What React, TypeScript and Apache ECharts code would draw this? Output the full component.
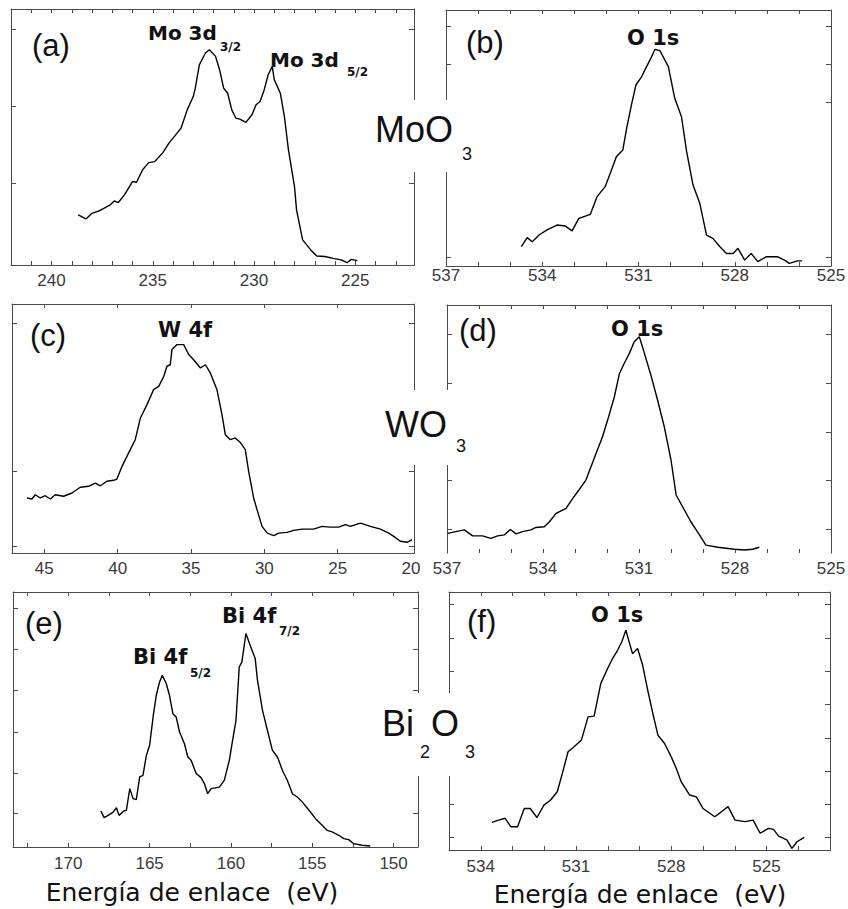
import React, { useEffect, useRef } from "react";
import * as echarts from "echarts";

// ---------- (a) Mo 3d ----------
const mo3dEnergy = [238.68, 238.3, 238.0, 237.6, 237.1, 236.9, 236.7, 236.4, 236.0, 235.8, 235.5, 235.2, 234.9, 234.5, 234.2, 233.8, 233.6, 233.3, 233.0, 232.9, 232.7, 232.4, 232.2, 231.9, 231.7, 231.5, 231.3, 231.1, 230.9, 230.7, 230.4, 230.1, 229.9, 229.7, 229.5, 229.3, 229.1, 229.0, 228.7, 228.5, 228.3, 228.0, 227.9, 227.6, 227.2, 226.9, 226.5, 226.1, 225.7, 225.4, 225.2, 224.9];
const mo3dIntensity = [19.6, 18.0, 20.2, 21.3, 23.5, 25.0, 24.4, 27.4, 32.6, 32.3, 37.2, 40.0, 40.4, 43.9, 47.6, 51.5, 53.5, 60.6, 65.8, 69.1, 78.2, 82.8, 84.1, 81.5, 76.3, 69.1, 67.1, 60.6, 57.4, 57.0, 55.7, 58.7, 62.6, 63.9, 68.4, 74.3, 77.6, 72.4, 67.1, 58.0, 45.0, 30.6, 21.5, 9.8, 5.9, 3.5, 3.3, 2.6, 2.0, 0.9, 2.2, 1.7];

// ---------- (b) O 1s in MoO3 ----------
const moO1sEnergy = [534.65, 534.47, 534.31, 534.10, 533.85, 533.54, 533.28, 533.07, 532.86, 532.50, 532.29, 532.04, 531.88, 531.69, 531.49, 531.36, 531.21, 531.08, 530.90, 530.80, 530.64, 530.49, 530.33, 530.07, 529.87, 529.66, 529.50, 529.30, 529.09, 528.88, 528.68, 528.47, 528.26, 528.05, 527.90, 527.69, 527.49, 527.28, 527.02, 526.66, 526.45, 526.30, 526.04, 525.90];
const moO1sIntensity = [7.6, 11.1, 9.5, 12.1, 14.1, 16.0, 15.6, 13.7, 18.6, 20.2, 27.1, 31.0, 36.2, 42.7, 45.3, 54.4, 63.5, 70.7, 74.0, 76.6, 80.5, 84.6, 84.1, 77.9, 65.5, 58.3, 44.7, 31.6, 24.5, 12.1, 10.8, 7.6, 4.9, 4.9, 6.9, 2.3, 4.9, 1.7, 3.6, 3.6, 2.3, 1.0, 2.0, 2.0];

// ---------- (c) W 4f ----------
const w4fEnergy = [46.18, 45.84, 45.61, 45.27, 44.93, 44.59, 44.25, 43.68, 43.11, 42.55, 41.98, 41.52, 41.18, 40.73, 40.27, 40.05, 39.70, 39.25, 38.80, 38.45, 38.0, 37.55, 37.20, 36.86, 36.64, 36.41, 36.30, 35.95, 35.50, 35.16, 34.82, 34.36, 34.02, 33.68, 33.23, 32.89, 32.66, 32.32, 31.98, 31.64, 31.30, 31.07, 30.73, 30.50, 30.16, 29.80, 29.36, 29.02, 28.45, 28.0, 27.43, 26.64, 26.07, 25.5, 24.93, 24.48, 24.14, 23.45, 22.77, 22.09, 21.52, 21.18, 20.73, 20.27, 19.93];
const w4fIntensity = [22.1, 21.7, 23.4, 22.1, 23.0, 21.7, 23.4, 22.8, 24.1, 26.4, 26.8, 28.1, 27.0, 28.8, 29.2, 29.7, 34.8, 40.2, 45.5, 54.2, 59.6, 65.6, 66.9, 70.9, 75.0, 75.6, 81.7, 83.7, 83.7, 79.7, 77.6, 74.3, 75.6, 72.3, 65.6, 55.6, 47.5, 45.5, 46.2, 44.4, 41.5, 32.8, 22.1, 17.4, 10.7, 8.0, 7.0, 8.0, 8.3, 9.1, 9.6, 9.6, 10.7, 10.4, 10.4, 11.4, 10.7, 12.0, 10.7, 9.6, 8.0, 6.7, 4.7, 4.3, 5.4];

// ---------- (d) O 1s in WO3 ----------
const wO1sEnergy = [536.98, 536.72, 536.46, 536.20, 535.89, 535.63, 535.42, 535.21, 535.02, 534.84, 534.64, 534.38, 534.22, 533.96, 533.80, 533.59, 533.28, 533.07, 532.86, 532.66, 532.50, 532.34, 532.14, 531.98, 531.77, 531.61, 531.46, 531.30, 531.15, 530.99, 530.83, 530.63, 530.42, 530.21, 530.00, 529.84, 529.64, 529.38, 529.11, 528.91, 528.54, 528.02, 527.71, 527.45, 527.24];
const wO1sIntensity = [7.9, 8.6, 9.3, 6.9, 6.9, 5.9, 6.9, 7.3, 9.5, 7.7, 8.6, 9.3, 10.3, 10.6, 12.6, 16.0, 18.0, 22.0, 25.7, 29.4, 34.8, 40.2, 46.9, 53.6, 63.0, 72.4, 76.5, 80.5, 85.2, 87.2, 80.5, 71.8, 61.7, 50.9, 37.5, 23.4, 18.7, 12.6, 7.3, 3.2, 2.3, 1.5, 1.2, 1.5, 2.3];

// ---------- (e) Bi 4f ----------
const bi4fEnergy = [168.0, 167.8, 167.55, 167.24, 167.04, 166.88, 166.59, 166.43, 166.22, 166.02, 165.82, 165.61, 165.41, 165.20, 165.0, 164.76, 164.59, 164.39, 164.22, 163.98, 163.78, 163.57, 163.37, 163.16, 162.86, 162.65, 162.45, 162.14, 161.84, 161.63, 161.43, 161.22, 160.71, 160.41, 160.10, 159.90, 159.69, 159.49, 159.33, 159.08, 158.78, 158.51, 158.37, 158.06, 157.76, 157.45, 157.14, 156.84, 156.53, 156.22, 155.92, 155.61, 155.20, 154.80, 154.39, 154.08, 153.78, 153.37, 153.06, 152.76, 152.45, 151.94, 151.43];
const bi4fIntensity = [14.1, 11.5, 12.4, 13.7, 15.4, 12.4, 14.1, 14.4, 22.9, 19.0, 18.6, 27.5, 28.1, 35.9, 39.9, 52.3, 59.5, 64.7, 67.3, 64.1, 59.5, 52.3, 51.0, 45.1, 40.5, 35.3, 34.0, 28.8, 27.2, 24.8, 20.9, 22.9, 23.5, 26.1, 34.0, 41.8, 49.7, 70.6, 72.5, 83.7, 78.4, 73.9, 65.4, 53.6, 45.8, 37.9, 35.3, 30.1, 26.1, 20.9, 19.6, 17.6, 14.4, 11.1, 8.5, 6.5, 5.9, 4.6, 3.3, 2.9, 1.3, 0.7, 0.4];

// ---------- (f) O 1s in Bi2O3 ----------
const biO1sEnergy = [533.65, 533.44, 533.23, 533.05, 532.84, 532.63, 532.44, 532.23, 532.01, 531.80, 531.59, 531.43, 531.25, 531.06, 530.83, 530.62, 530.43, 530.22, 530.03, 529.85, 529.69, 529.56, 529.43, 529.22, 529.06, 528.90, 528.74, 528.58, 528.42, 528.21, 528.0, 527.84, 527.69, 527.42, 527.21, 527.00, 526.63, 526.42, 526.21, 525.99, 525.68, 525.42, 525.20, 524.94, 524.78, 524.62, 524.36, 524.20, 524.04, 523.81];
const biO1sIntensity = [10.7, 11.6, 12.3, 9.0, 9.0, 16.1, 16.1, 12.6, 17.4, 19.4, 22.6, 29.7, 38.1, 40.0, 42.6, 51.6, 51.9, 64.5, 69.7, 74.2, 77.4, 80.6, 85.2, 76.1, 78.1, 71.6, 61.9, 52.9, 44.5, 41.3, 36.1, 31.6, 26.5, 21.3, 20.6, 16.1, 12.9, 14.8, 16.8, 11.6, 11.0, 11.6, 6.5, 8.4, 8.0, 5.4, 3.9, 0.6, 3.2, 4.9];

// ---------- tick labels / tick positions ----------
const moXLabels = [240, 235, 230, 225];
const moXTicks = [223, 224, 225, 226, 227, 228, 229, 230, 231, 232, 233, 234, 235, 236, 237, 238, 239, 240, 241];
const oXLabels = [537, 534, 531, 528, 525];
const oXTicks = [526, 527, 528, 529, 530, 531, 532, 533, 534, 535, 536];
const wXLabels = [45, 40, 35, 30, 25, 20];
const wXTicks = [45, 40, 35, 30, 25];
const biXLabels = [170, 165, 160, 155, 150];
const biXTicks = [150, 152.5, 155, 157.5, 160, 162.5, 165, 167.5, 170, 172.5];
const biOXLabels = [534, 531, 528, 525];
const biOXTicks = [524, 525, 526, 527, 528, 529, 530, 531, 532, 533, 534];

const aYTicks = [31.8, 61.9, 92.2];
const bYTicks = [3.6, 63.8, 78.8, 93.75];
const cYTicks = [2.9, 32.8, 92.4];
const dYTicks = [9.4, 29.2, 48.8, 68.6, 88.2];
const eYTicks = [13.1, 29.0, 45.1, 61.4, 77.5, 93.5];
const fYTicks = [4.8, 17.7, 30.6, 43.5, 56.4, 69.3, 82.2, 95.1];

const axisTitle = "Energía de enlace  (eV)";

const SANS = "'Liberation Sans', Arial, sans-serif";
const WIDE = "'DejaVu Sans', Verdana, sans-serif";

const pair = (xs: number[], ys: number[]) => xs.map((x, i) => [x, ys[i]]);

function buildOption() {
  const panels = [
    { box: { left: 11, top: 9, width: 403, height: 256 }, xMin: 222.1, xMax: 242, xLabels: moXLabels, xTicks: moXTicks, yTicks: aYTicks, data: pair(mo3dEnergy, mo3dIntensity), margin: 7, bottomLine: true },
    { box: { left: 446, top: 10, width: 385, height: 256 }, xMin: 525, xMax: 537, xLabels: oXLabels, xTicks: oXTicks, yTicks: bYTicks, data: pair(moO1sEnergy, moO1sIntensity), margin: 1, bottomLine: true },
    { box: { left: 12, top: 304, width: 402, height: 249 }, xMin: 19.8, xMax: 47.2, xLabels: wXLabels, xTicks: wXTicks, yTicks: cYTicks, data: pair(w4fEnergy, w4fIntensity), margin: 7, bottomLine: true },
    { box: { left: 447, top: 305, width: 384, height: 248 }, xMin: 525, xMax: 537, xLabels: oXLabels, xTicks: oXTicks, yTicks: dYTicks, data: pair(wO1sEnergy, wO1sIntensity), margin: 7, bottomLine: false },
    { box: { left: 13, top: 592, width: 405, height: 255 }, xMin: 148.5, xMax: 173.4, xLabels: biXLabels, xTicks: biXTicks, yTicks: eYTicks, data: pair(bi4fEnergy, bi4fIntensity), margin: 8, bottomLine: true },
    { box: { left: 449, top: 592, width: 381, height: 258 }, xMin: 523, xMax: 535, xLabels: biOXLabels, xTicks: biOXTicks, yTicks: fYTicks, data: pair(biO1sEnergy, biO1sIntensity), margin: 8, bottomLine: true },
  ];

  const lineStyle = { color: "#4a4a4a", width: 1 };
  const grid: any[] = [];
  const xAxis: any[] = [];
  const yAxis: any[] = [];
  const series: any[] = [];

  panels.forEach((p, i) => {
    grid.push({ ...p.box, containLabel: false, outerBoundsMode: "none" });
    xAxis.push({
      type: "value", gridIndex: i, position: "bottom", min: p.xMin, max: p.xMax, inverse: true,
      axisLine: { show: p.bottomLine, onZero: false, lineStyle },
      axisTick: { show: true, inside: true, length: 4, customValues: p.xTicks, lineStyle },
      axisLabel: { show: true, customValues: p.xLabels, margin: p.margin, fontSize: 17, color: "#3a3a3a", fontFamily: SANS },
      splitLine: { show: false },
    });
    xAxis.push({
      type: "value", gridIndex: i, position: "top", min: p.xMin, max: p.xMax, inverse: true,
      axisLine: { show: true, onZero: false, lineStyle },
      axisTick: { show: true, inside: true, length: 4, customValues: p.xTicks, lineStyle },
      axisLabel: { show: false },
      splitLine: { show: false },
    });
    yAxis.push({
      type: "value", gridIndex: i, position: "left", min: 0, max: 100,
      axisLine: { show: true, onZero: false, lineStyle },
      axisTick: { show: true, inside: true, length: 5, customValues: p.yTicks, lineStyle },
      axisLabel: { show: false },
      splitLine: { show: false },
    });
    yAxis.push({
      type: "value", gridIndex: i, position: "right", min: 0, max: 100,
      axisLine: { show: true, onZero: false, lineStyle },
      axisTick: { show: true, inside: true, length: 5, customValues: p.yTicks, lineStyle },
      axisLabel: { show: false },
      splitLine: { show: false },
    });
    series.push({
      type: "line", xAxisIndex: 2 * i, yAxisIndex: 2 * i, data: p.data,
      showSymbol: false, symbol: "none", silent: true,
      lineStyle: { color: "#000", width: 1.4 },
    });
  });

  const txt = (text: string, x: number, y: number, fontSize: number, fontFamily: string, fontWeight: any = "normal", align = "left") => ({
    type: "text", x, y, z: 60,
    style: { text, fontSize, fontFamily, fontWeight, fill: "#111", textAlign: align, verticalAlign: "middle", textVerticalAlign: "middle" },
  });
  const white = (x: number, y: number, w: number, h: number) => ({
    type: "rect", z: 55, shape: { x, y, width: w, height: h }, style: { fill: "#fff" },
  });

  const graphic = [
    white(368, 100, 112, 72),
    white(380, 390, 95, 75),
    white(380, 693, 100, 83),
    // panel letters
    txt("(a)", 32, 45, 31, SANS),
    txt("(b)", 466, 42, 31, SANS),
    txt("(c)", 30, 335, 31, SANS),
    txt("(d)", 459, 330, 31, SANS),
    txt("(e)", 25, 623, 31, SANS),
    txt("(f)", 467, 621, 31, SANS),
    // peak labels
    txt("Mo 3d", 148, 32.5, 20, WIDE, "bold"),
    txt("3/2", 220, 46.5, 12, WIDE, "bold"),
    txt("Mo 3d", 270, 60, 20, WIDE, "bold"),
    txt("5/2", 347, 71.5, 12, WIDE, "bold"),
    txt("O 1s", 627, 37.5, 21, WIDE, "bold"),
    txt("W 4f", 158, 329.5, 21, WIDE, "bold"),
    txt("O 1s", 611, 328.5, 21, WIDE, "bold"),
    txt("Bi 4f", 133, 656.5, 21, WIDE, "bold"),
    txt("5/2", 190, 672.5, 12, WIDE, "bold"),
    txt("Bi 4f", 222, 615.5, 21, WIDE, "bold"),
    txt("7/2", 279, 631, 12, WIDE, "bold"),
    txt("O 1s", 591, 614.5, 21, WIDE, "bold"),
    // compound names
    txt("MoO", 375, 129.5, 36, SANS),
    txt("3", 462, 154, 18, SANS),
    txt("WO", 385, 424, 36, SANS),
    txt("3", 456, 446, 18, SANS),
    txt("Bi", 382, 723.5, 36, SANS),
    txt("2", 420, 751.5, 18, SANS),
    txt("O", 431, 723.5, 36, SANS),
    txt("3", 465, 751.5, 18, SANS),
    // axis titles
    txt(axisTitle, 192, 892, 25, WIDE, "normal", "center"),
    txt(axisTitle, 640, 894, 25, WIDE, "normal", "center"),
  ];

  return {
    animation: false,
    backgroundColor: "#fff",
    grid, xAxis, yAxis, series,
    graphic: { elements: graphic },
  };
}

export default function App() {
  const ref = useRef<HTMLDivElement>(null);
  useEffect(() => {
    document.body.style.margin = "0";
    if (!ref.current) return;
    const chart = echarts.init(ref.current, undefined, { renderer: "svg" });
    chart.setOption(buildOption() as any);
    return () => chart.dispose();
  }, []);
  return <div ref={ref} style={{ width: 848, height: 909 }} />;
}
